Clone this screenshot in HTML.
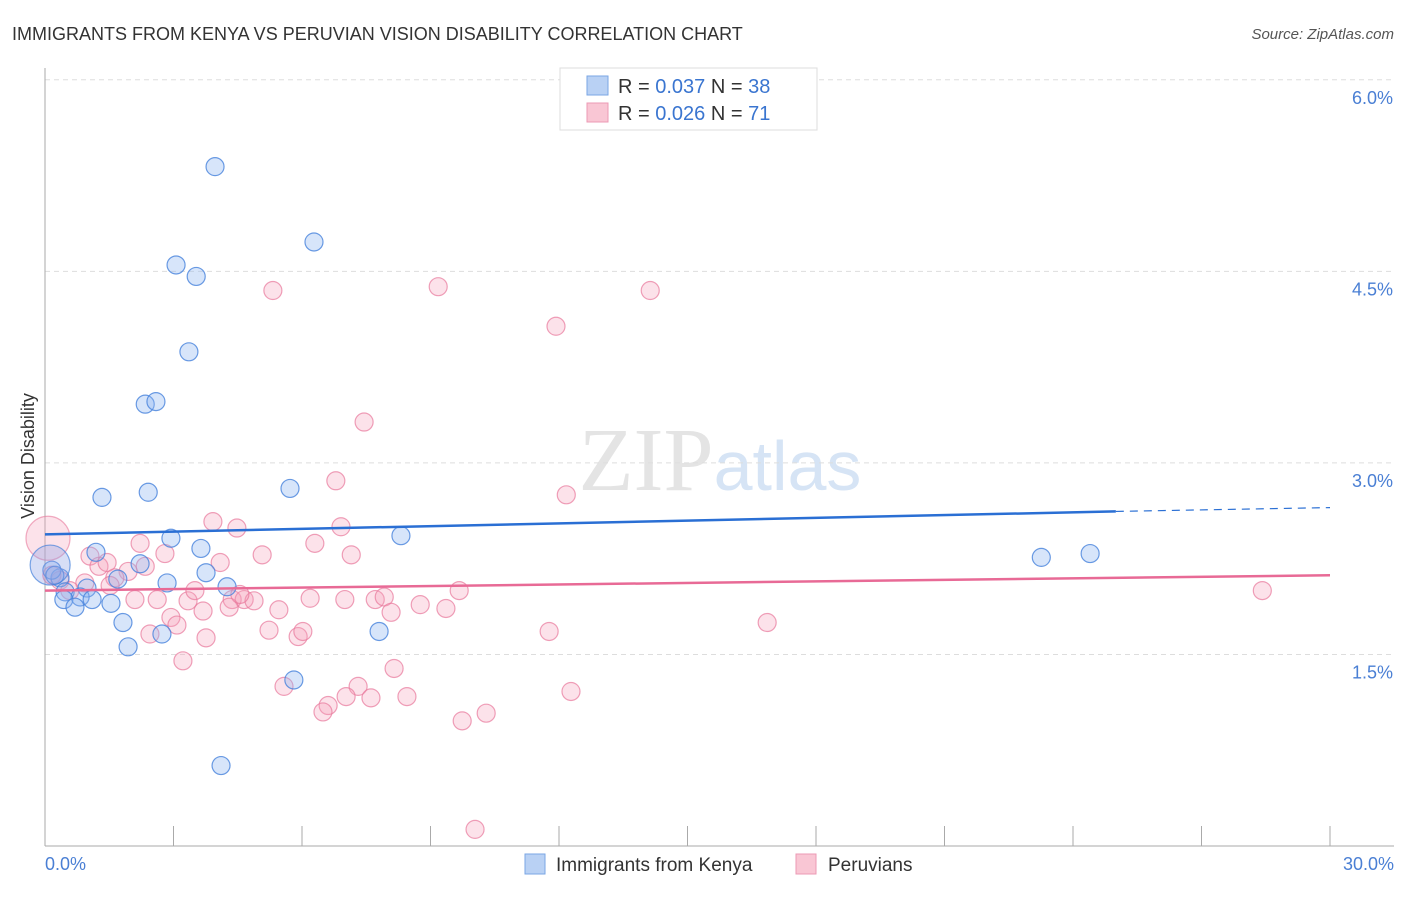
<!DOCTYPE html>
<html><head><meta charset="utf-8"><style>
body{margin:0;background:#fff;font-family:"Liberation Sans",sans-serif}
</style></head><body>
<svg id="c" width="1406" height="892" xmlns="http://www.w3.org/2000/svg" style="font-family:'Liberation Sans',sans-serif">
<text x="12" y="40" font-size="18" fill="#333">IMMIGRANTS FROM KENYA VS PERUVIAN VISION DISABILITY CORRELATION CHART</text>
<text x="1394" y="39" font-size="15" fill="#555" text-anchor="end" font-style="italic">Source: ZipAtlas.com</text>
<text x="720" y="490" font-size="90" fill="#e4e4e4" text-anchor="middle" font-family="Liberation Serif">ZIP<tspan fill="#d6e4f5" font-family="Liberation Sans" font-size="70">atlas</tspan></text>
<g id="grid"></g>
<g id="axes"></g>
<g id="pts"></g>
<g id="trend"></g>
<text transform="translate(34,456) rotate(-90)" font-size="18" fill="#333" text-anchor="middle">Vision Disability</text>
<text x="45" y="870" font-size="18" fill="#4a7fd4">0.0%</text>
<text x="1394" y="870" font-size="18" fill="#4a7fd4" text-anchor="end">30.0%</text>
<g>
<rect x="560" y="68" width="257" height="62" fill="#fff" stroke="#ddd"/>
<rect x="587" y="76" width="21" height="19" fill="#b9d1f4" stroke="#7aa6e4"/>
<rect x="587" y="103" width="21" height="19" fill="#f9c6d4" stroke="#ec9ab4"/>
<text x="618" y="93" font-size="20" fill="#333">R = <tspan fill="#3a75d0">0.037</tspan>   N = <tspan fill="#3a75d0">38</tspan></text>
<text x="618" y="120" font-size="20" fill="#333">R = <tspan fill="#3a75d0">0.026</tspan>   N = <tspan fill="#3a75d0"> 71</tspan></text>
</g>
<g>
<rect x="525" y="854" width="20" height="20" fill="#b9d1f4" stroke="#7aa6e4"/>
<text x="556" y="871" font-size="19" fill="#333">Immigrants from Kenya</text>
<rect x="796" y="854" width="20" height="20" fill="#f9c6d4" stroke="#ec9ab4"/>
<text x="828" y="871" font-size="19" fill="#333">Peruvians</text>
</g>
</svg>
<script>
const yTicks=[1.5,3.0,4.5,6.0];
const yTickLabels=["1.5%","3.0%","4.5%","6.0%"];
const xTicks=[3,6,9,12,15,18,21,24,27,30];
const kenyaX=[3.97,6.28,3.06,3.53,3.36,2.34,2.59,1.33,2.41,5.72,8.31,2.94,1.19,3.64,2.22,3.76,1.70,2.85,4.25,0.35,0.16,0.98,0.47,0.82,1.10,0.44,0.70,1.54,1.82,2.73,7.80,1.94,5.81,4.11,23.26,24.40,0.23];
const kenyaY=[5.32,4.73,4.55,4.46,3.87,3.46,3.48,2.73,2.77,2.80,2.43,2.41,2.30,2.33,2.21,2.14,2.09,2.06,2.03,2.10,2.16,2.02,1.99,1.95,1.93,1.93,1.87,1.90,1.75,1.66,1.68,1.56,1.30,0.63,2.26,2.29,2.12];
const peruX=[5.32,9.18,14.13,11.93,7.45,6.79,12.17,3.92,4.48,6.91,2.22,6.30,1.05,5.07,2.80,7.15,1.26,4.09,2.34,1.45,1.94,1.63,0.93,0.35,0.58,9.67,28.42,6.19,7.71,7.92,2.10,2.62,3.34,4.37,4.65,4.88,4.30,3.69,5.46,9.36,8.08,2.94,3.08,5.23,5.91,6.02,11.77,16.86,2.45,3.76,3.22,8.15,5.58,7.31,12.28,7.03,7.61,8.45,6.61,6.49,10.30,9.74,10.04,1.52,3.50,7.00,0.16,4.55,8.76];
const peruY=[4.35,4.38,4.35,4.07,3.32,2.86,2.75,2.54,2.49,2.50,2.37,2.37,2.27,2.28,2.29,2.28,2.19,2.22,2.19,2.22,2.15,2.10,2.06,2.08,2.00,2.00,2.00,1.94,1.93,1.95,1.93,1.93,1.92,1.93,1.93,1.92,1.87,1.84,1.85,1.86,1.83,1.79,1.73,1.69,1.64,1.68,1.68,1.75,1.66,1.63,1.45,1.39,1.25,1.25,1.21,1.17,1.16,1.17,1.10,1.05,1.04,0.98,0.13,2.04,2.00,1.93,2.12,1.97,1.89];
const bigKenya=[0.12,2.20];
const bigPeru=[0.07,2.41];
const kenyaTrend=[[0,2.44],[25,2.62],[30,2.65]];
const peruTrend=[[0,2.00],[30,2.12]];
const NS="http://www.w3.org/2000/svg";
const X=v=>45+v/30*1285, Y=v=>846-v*127.7;
function mk(t,a,p){const e=document.createElementNS(NS,t);for(const k in a)e.setAttribute(k,a[k]);p.appendChild(e);return e;}
const g=document.getElementById('grid'),ax=document.getElementById('axes'),pts=document.getElementById('pts'),tr=document.getElementById('trend');
yTicks.forEach((t,i)=>{const l=mk('line',{x1:45,x2:1394,y1:Y(t),y2:Y(t),stroke:'#ddd','stroke-dasharray':'5,4'},g);


const tx=mk('text',{x:1393,y:Y(t)+24,'font-size':18,fill:'#4a7fd4','text-anchor':'end'},g);tx.textContent=yTickLabels[i];

});
mk('line',{x1:45,x2:45,y1:68,y2:846,stroke:'#aaa'},ax);
mk('line',{x1:45,x2:1394,y1:846,y2:846,stroke:'#aaa'},ax);
xTicks.forEach(t=>{const l=mk('line',{x1:X(t),x2:X(t),y1:826,y2:846,stroke:'#aaa'},ax);

});
function dot(x,y,r,f,s,n){const c=mk('circle',{cx:X(x),cy:Y(y),r:r,fill:f,stroke:s,'stroke-width':1.2},pts);

}
peruX.forEach((x,i)=>dot(x,peruY[i],9,'rgba(245,160,185,0.3)','rgba(232,120,155,0.7)','peru-point'));
kenyaX.forEach((x,i)=>dot(x,kenyaY[i],9,'rgba(140,180,240,0.35)','rgba(70,130,220,0.8)','kenya-point'));
dot(bigPeru[0],bigPeru[1],22,'rgba(245,160,185,0.3)','rgba(232,120,155,0.6)','peru-point-large');
dot(bigKenya[0],bigKenya[1],20,'rgba(140,160,230,0.35)','rgba(70,130,220,0.7)','kenya-point-large');
let l=mk('line',{x1:X(kenyaTrend[0][0]),y1:Y(kenyaTrend[0][1]),x2:X(kenyaTrend[1][0]),y2:Y(kenyaTrend[1][1]),stroke:'#2a6fd4','stroke-width':2.5},tr);


l=mk('line',{x1:X(kenyaTrend[1][0]),y1:Y(kenyaTrend[1][1]),x2:X(kenyaTrend[2][0]),y2:Y(kenyaTrend[2][1]),stroke:'#2a6fd4','stroke-width':1.2,'stroke-dasharray':'8,6'},tr);


l=mk('line',{x1:X(peruTrend[0][0]),y1:Y(peruTrend[0][1]),x2:X(peruTrend[1][0]),y2:Y(peruTrend[1][1]),stroke:'#e86a96','stroke-width':2.5},tr);


</script>
</body></html>
